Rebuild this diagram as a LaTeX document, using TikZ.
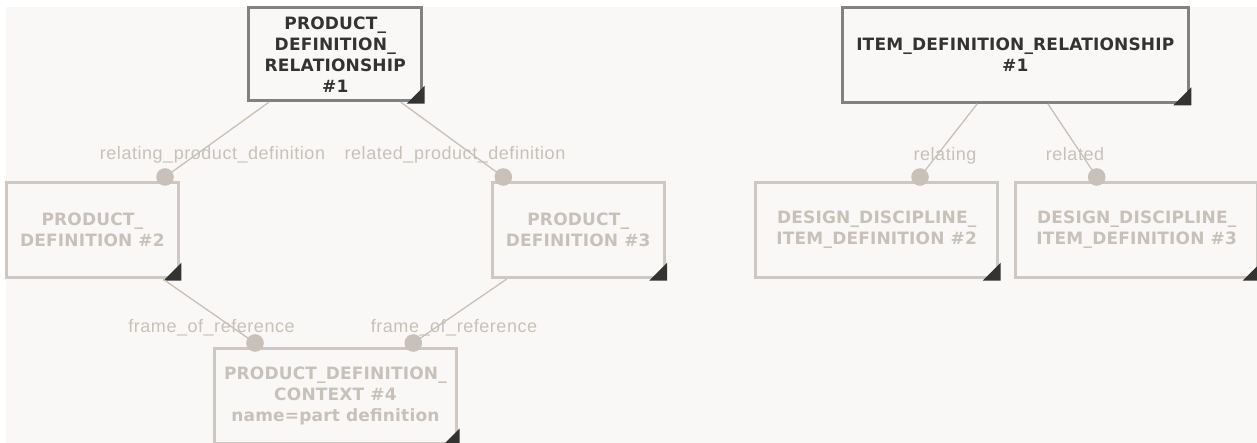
\documentclass[tikz,border=0pt]{standalone}
\usepackage{fontspec}
\newfontfamily\boxfont{DejaVu Sans}[LetterSpace=1]
\newfontfamily\lblfont{Liberation Sans}[LetterSpace=3]
\definecolor{canvas}{HTML}{F9F8F6}
\definecolor{darktext}{HTML}{333333}
\definecolor{darkborder}{HTML}{828080}
\definecolor{fadetext}{HTML}{C8C1BA}
\definecolor{fadeborder}{HTML}{CFC8C2}
\definecolor{linec}{HTML}{C8C0B9}
\definecolor{dotc}{HTML}{C8C0B9}
\definecolor{tric}{HTML}{333333}
\begin{document}
\begin{tikzpicture}[x=1pt,y=-1pt,
  entity/.style={rectangle, line width=3pt, fill=canvas, align=center, inner sep=2pt,
    font=\boxfont\bfseries\fontsize{17}{21}\selectfont},
  hbox/.style={entity, draw=darkborder, text=darktext},
  fbox/.style={entity, draw=fadeborder, text=fadetext},
  conn/.style={draw=linec, line width=1.3pt},
  dotm/.style={fill=dotc},
  lbl/.style={text=fadetext, inner sep=0pt, anchor=base, font=\lblfont\fontsize{18}{20}\selectfont},
  tri/.style={fill=tric}]
\useasboundingbox (0,0) rectangle (1257,443);
\fill[white] (0,0) rectangle (1257,443);
\fill[canvas] (6,7) rectangle (1257,443);

% boxes
\node[hbox, minimum width=172.9pt, minimum height=92.7pt] (pdr) at (335.25,54.35)
  {PRODUCT\_\\DEFINITION\_\\RELATIONSHIP\\\#1};
\node[fbox, minimum width=171.8pt, minimum height=95.2pt] (pd2) at (92.4,230.1)
  {PRODUCT\_\\DEFINITION \#2};
\node[fbox, minimum width=172pt, minimum height=95.2pt] (pd3) at (578.2,230.1)
  {PRODUCT\_\\DEFINITION \#3};
\node[fbox, minimum width=242.5pt, minimum height=95.2pt] (pdc) at (335.45,395.9)
  {PRODUCT\_DEFINITION\_\\CONTEXT \#4\\name=part definition};
\node[hbox, minimum width=346pt, minimum height=94.8pt] (idr) at (1015.3,54.9)
  {ITEM\_DEFINITION\_RELATIONSHIP\\\#1};
\node[fbox, minimum width=242pt, minimum height=95.2pt] (dd2) at (876.7,230.1)
  {DESIGN\_DISCIPLINE\_\\ITEM\_DEFINITION \#2};
\node[fbox, minimum width=242pt, minimum height=95.2pt] (dd3) at (1136.7,230.1)
  {DESIGN\_DISCIPLINE\_\\ITEM\_DEFINITION \#3};

\foreach \n in {pdr,pd2,pd3,pdc,idr,dd2,dd3}
  \fill[tri] ([shift={(1.5pt,-1.5pt)}]\n.south east) -- ++(0pt,18pt) -- ++(-18pt,-18pt) -- cycle;

% connector ends
\coordinate (d1) at (165,177);
\coordinate (d2) at (503.3,177);
\coordinate (d3) at (255,343);
\coordinate (d4) at (413.3,343);
\coordinate (d5) at (920,177);
\coordinate (d6) at (1096.7,177);

% labels
\node[lbl] (l1) at (212.5,160) {relating\_product\_definition};
\node[lbl] (l2) at (455,160) {related\_product\_definition};
\node[lbl] (l3) at (211.5,332) {frame\_of\_reference};
\node[lbl] (l4) at (454,332) {frame\_of\_reference};
\node[lbl] (l5) at (945,161) {relating};
\node[lbl] (l6) at (1075,161) {related};

% connectors
\draw[conn] (pdr) -- (d1);
\draw[conn] (pdr) -- (d2);
\draw[conn] (pd2) -- (d3);
\draw[conn] (pd3) -- (d4);
\draw[conn] (idr) -- (d5);
\draw[conn] (idr) -- (d6);

\foreach \d in {d1,d2,d3,d4,d5,d6}
  \fill[dotm] (\d) circle (8.8pt);
\end{tikzpicture}
\end{document}
